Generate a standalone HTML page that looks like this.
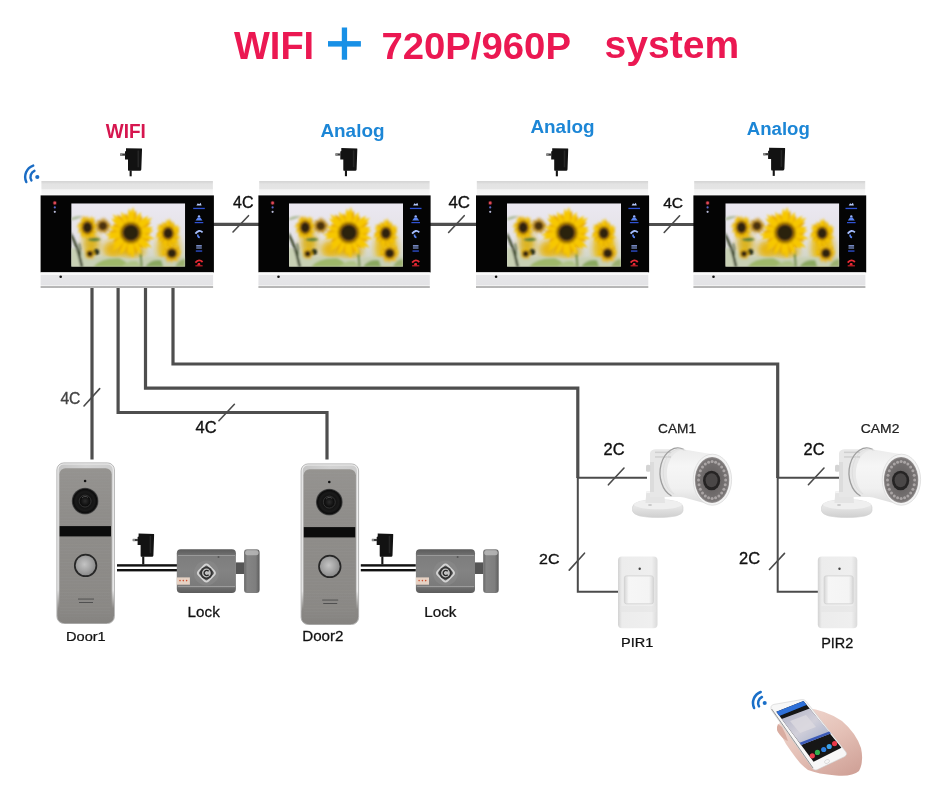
<!DOCTYPE html>
<html><head><meta charset="utf-8"><title>WIFI + 720P/960P system</title>
<style>html,body{margin:0;padding:0;background:#fff;}svg{display:block;filter:blur(0.4px);}</style></head>
<body><svg width="950" height="807" viewBox="0 0 950 807"><defs>
<linearGradient id="silTop" x1="0" y1="0" x2="0" y2="1">
 <stop offset="0" stop-color="#d4d4d4"/><stop offset="0.14" stop-color="#dcdcdc"/><stop offset="0.2" stop-color="#e3e3e3"/>
 <stop offset="0.52" stop-color="#e5e5e5"/><stop offset="0.6" stop-color="#f2f2f2"/><stop offset="0.9" stop-color="#f5f5f5"/><stop offset="1" stop-color="#fbfbfb"/>
</linearGradient>
<linearGradient id="silBot" x1="0" y1="0" x2="0" y2="1">
 <stop offset="0" stop-color="#fcfcfc"/><stop offset="0.15" stop-color="#f8f8f8"/><stop offset="0.19" stop-color="#e6e6e8"/>
 <stop offset="0.78" stop-color="#e3e3e6"/><stop offset="0.8" stop-color="#f2f2f2"/><stop offset="0.87" stop-color="#f0f0f0"/><stop offset="0.88" stop-color="#b8b8b8"/><stop offset="1" stop-color="#b4b4b4"/>
</linearGradient>
<linearGradient id="sky" x1="0" y1="0" x2="0" y2="1">
 <stop offset="0" stop-color="#ebe8f1"/><stop offset="0.55" stop-color="#e4e2e6"/>
 <stop offset="1" stop-color="#c9d0bc"/>
</linearGradient>
<filter id="b1" x="-10%" y="-10%" width="120%" height="120%"><feGaussianBlur stdDeviation="0.9"/></filter>
<filter id="b2" x="-20%" y="-20%" width="140%" height="140%"><feGaussianBlur stdDeviation="3"/></filter><filter id="b05"><feGaussianBlur stdDeviation="0.5"/></filter>
<filter id="b03"><feGaussianBlur stdDeviation="0.3"/></filter>
<radialGradient id="sunC" cx="0.5" cy="0.5" r="0.5">
 <stop offset="0" stop-color="#2d2a0e"/><stop offset="0.6" stop-color="#4a3612"/><stop offset="1" stop-color="#8a6a10"/>
</radialGradient>
<clipPath id="scrClip"><rect x="0" y="0" width="114" height="63.5"/></clipPath>
<g id="scr" clip-path="url(#scrClip)"><rect width="114" height="63.5" fill="url(#sky)"/><g filter="url(#b2)"><ellipse cx="42" cy="46" rx="10" ry="9" fill="#e6b614"/><ellipse cx="97" cy="44" rx="11" ry="17" fill="#e8bb12"/><ellipse cx="20" cy="40" rx="8" ry="12" fill="#dcb420"/><ellipse cx="60" cy="48" rx="14" ry="6" fill="#e0b010"/></g><g filter="url(#b1)"><path d="M0,44 Q15,50 24,54 Q40,52 60,56 Q85,52 114,54 L114,63.5 L0,63.5Z" fill="#c8d0b4"/><path d="M22,63.5 Q30,54 48,55 Q56,58 58,63.5Z" fill="#9fb86a"/><path d="M50,63.5 Q58,56 66,58 L70,63.5Z" fill="#b0c488"/><path d="M74,63.5 Q80,55 90,57 L92,63.5Z" fill="#8aa860"/><path d="M104,63.5 Q108,55 114,56 L114,63.5Z" fill="#9cb070"/><path d="M0,29 Q8,44 12,63.5 L9.5,63.5 Q6,46 0,34Z" fill="#263018"/><path d="M8,40 Q10,46 9,52" stroke="#384a26" stroke-width="1.2" fill="none"/><path d="M15,36 Q24,33 30,36 Q24,40 15,36Z" fill="#5d7f3a"/><path d="M0,15 Q6,12 12,13 Q6,16 0,17Z" fill="#a9b894"/><path d="M68,46 L69.5,63.5 L71.5,63.5 L70,46Z" fill="#6c8a3e"/><circle cx="25" cy="48.7" r="3" fill="#1e2812"/><g transform="translate(31.7,22.6) scale(1,1.0)"><path d="M2.9,0 Q5.0,-1.5 7.7,0 Q5.0,1.5 2.9,0Z" fill="#b07e18" transform="rotate(8)"/><path d="M2.9,0 Q5.2,-1.5 8.1,0 Q5.2,1.5 2.9,0Z" fill="#b07e18" transform="rotate(38)"/><path d="M2.9,0 Q5.4,-1.5 8.5,0 Q5.4,1.5 2.9,0Z" fill="#b07e18" transform="rotate(67)"/><path d="M2.9,0 Q5.0,-1.5 7.7,0 Q5.0,1.5 2.9,0Z" fill="#b07e18" transform="rotate(86)"/><path d="M2.9,0 Q5.2,-1.5 8.1,0 Q5.2,1.5 2.9,0Z" fill="#b07e18" transform="rotate(116)"/><path d="M2.9,0 Q5.4,-1.5 8.5,0 Q5.4,1.5 2.9,0Z" fill="#b07e18" transform="rotate(145)"/><path d="M2.9,0 Q5.0,-1.5 7.7,0 Q5.0,1.5 2.9,0Z" fill="#b07e18" transform="rotate(164)"/><path d="M2.9,0 Q5.2,-1.5 8.1,0 Q5.2,1.5 2.9,0Z" fill="#b07e18" transform="rotate(194)"/><path d="M2.9,0 Q5.4,-1.5 8.5,0 Q5.4,1.5 2.9,0Z" fill="#b07e18" transform="rotate(224)"/><path d="M2.9,0 Q5.0,-1.5 7.7,0 Q5.0,1.5 2.9,0Z" fill="#b07e18" transform="rotate(242)"/><path d="M2.9,0 Q5.2,-1.5 8.1,0 Q5.2,1.5 2.9,0Z" fill="#b07e18" transform="rotate(272)"/><path d="M2.9,0 Q5.4,-1.5 8.5,0 Q5.4,1.5 2.9,0Z" fill="#b07e18" transform="rotate(291)"/><path d="M2.9,0 Q5.0,-1.5 7.7,0 Q5.0,1.5 2.9,0Z" fill="#b07e18" transform="rotate(320)"/><path d="M2.9,0 Q5.2,-1.5 8.1,0 Q5.2,1.5 2.9,0Z" fill="#b07e18" transform="rotate(350)"/><path d="M2.9,0 Q5.4,-1.5 8.5,0 Q5.4,1.5 2.9,0Z" fill="#d6a428" transform="rotate(-5)"/><path d="M2.9,0 Q5.6,-1.5 9.0,0 Q5.6,1.5 2.9,0Z" fill="#d6a428" transform="rotate(25)"/><path d="M2.9,0 Q5.9,-1.5 9.5,0 Q5.9,1.5 2.9,0Z" fill="#d6a428" transform="rotate(54)"/><path d="M2.9,0 Q5.4,-1.5 8.5,0 Q5.4,1.5 2.9,0Z" fill="#d6a428" transform="rotate(73)"/><path d="M2.9,0 Q5.6,-1.5 9.0,0 Q5.6,1.5 2.9,0Z" fill="#d6a428" transform="rotate(103)"/><path d="M2.9,0 Q5.9,-1.5 9.5,0 Q5.9,1.5 2.9,0Z" fill="#d6a428" transform="rotate(133)"/><path d="M2.9,0 Q5.4,-1.5 8.5,0 Q5.4,1.5 2.9,0Z" fill="#d6a428" transform="rotate(151)"/><path d="M2.9,0 Q5.6,-1.5 9.0,0 Q5.6,1.5 2.9,0Z" fill="#d6a428" transform="rotate(181)"/><path d="M2.9,0 Q5.9,-1.5 9.5,0 Q5.9,1.5 2.9,0Z" fill="#d6a428" transform="rotate(211)"/><path d="M2.9,0 Q5.4,-1.5 8.5,0 Q5.4,1.5 2.9,0Z" fill="#d6a428" transform="rotate(229)"/><path d="M2.9,0 Q5.6,-1.5 9.0,0 Q5.6,1.5 2.9,0Z" fill="#d6a428" transform="rotate(259)"/><path d="M2.9,0 Q5.9,-1.5 9.5,0 Q5.9,1.5 2.9,0Z" fill="#d6a428" transform="rotate(278)"/><path d="M2.9,0 Q5.4,-1.5 8.5,0 Q5.4,1.5 2.9,0Z" fill="#d6a428" transform="rotate(308)"/><path d="M2.9,0 Q5.6,-1.5 9.0,0 Q5.6,1.5 2.9,0Z" fill="#d6a428" transform="rotate(337)"/><circle r="5.2" fill="#7a5014" opacity="0.55"/><circle r="4.2" fill="#7a5014"/><circle r="3.6" fill="#4a3010"/></g><g transform="translate(100.7,50) scale(1,1.0)"><path d="M3.2,0 Q5.7,-1.8 8.8,0 Q5.7,1.8 3.2,0Z" fill="#d89e08" transform="rotate(6)"/><path d="M3.2,0 Q6.0,-1.8 9.3,0 Q6.0,1.8 3.2,0Z" fill="#d89e08" transform="rotate(33)"/><path d="M3.2,0 Q6.2,-1.8 9.8,0 Q6.2,1.8 3.2,0Z" fill="#d89e08" transform="rotate(59)"/><path d="M3.2,0 Q5.7,-1.8 8.8,0 Q5.7,1.8 3.2,0Z" fill="#d89e08" transform="rotate(75)"/><path d="M3.2,0 Q6.0,-1.8 9.3,0 Q6.0,1.8 3.2,0Z" fill="#d89e08" transform="rotate(101)"/><path d="M3.2,0 Q6.2,-1.8 9.8,0 Q6.2,1.8 3.2,0Z" fill="#d89e08" transform="rotate(128)"/><path d="M3.2,0 Q5.7,-1.8 8.8,0 Q5.7,1.8 3.2,0Z" fill="#d89e08" transform="rotate(143)"/><path d="M3.2,0 Q6.0,-1.8 9.3,0 Q6.0,1.8 3.2,0Z" fill="#d89e08" transform="rotate(170)"/><path d="M3.2,0 Q6.2,-1.8 9.8,0 Q6.2,1.8 3.2,0Z" fill="#d89e08" transform="rotate(196)"/><path d="M3.2,0 Q5.7,-1.8 8.8,0 Q5.7,1.8 3.2,0Z" fill="#d89e08" transform="rotate(212)"/><path d="M3.2,0 Q6.0,-1.8 9.3,0 Q6.0,1.8 3.2,0Z" fill="#d89e08" transform="rotate(238)"/><path d="M3.2,0 Q6.2,-1.8 9.8,0 Q6.2,1.8 3.2,0Z" fill="#d89e08" transform="rotate(254)"/><path d="M3.2,0 Q5.7,-1.8 8.8,0 Q5.7,1.8 3.2,0Z" fill="#d89e08" transform="rotate(280)"/><path d="M3.2,0 Q6.0,-1.8 9.3,0 Q6.0,1.8 3.2,0Z" fill="#d89e08" transform="rotate(307)"/><path d="M3.2,0 Q6.2,-1.8 9.8,0 Q6.2,1.8 3.2,0Z" fill="#d89e08" transform="rotate(322)"/><path d="M3.2,0 Q5.7,-1.8 8.8,0 Q5.7,1.8 3.2,0Z" fill="#d89e08" transform="rotate(349)"/><path d="M3.2,0 Q6.2,-1.8 9.8,0 Q6.2,1.8 3.2,0Z" fill="#f0c010" transform="rotate(-5)"/><path d="M3.2,0 Q6.4,-1.8 10.4,0 Q6.4,1.8 3.2,0Z" fill="#f0c010" transform="rotate(22)"/><path d="M3.2,0 Q6.7,-1.8 11.0,0 Q6.7,1.8 3.2,0Z" fill="#f0c010" transform="rotate(48)"/><path d="M3.2,0 Q6.2,-1.8 9.8,0 Q6.2,1.8 3.2,0Z" fill="#f0c010" transform="rotate(64)"/><path d="M3.2,0 Q6.4,-1.8 10.4,0 Q6.4,1.8 3.2,0Z" fill="#f0c010" transform="rotate(90)"/><path d="M3.2,0 Q6.7,-1.8 11.0,0 Q6.7,1.8 3.2,0Z" fill="#f0c010" transform="rotate(116)"/><path d="M3.2,0 Q6.2,-1.8 9.8,0 Q6.2,1.8 3.2,0Z" fill="#f0c010" transform="rotate(132)"/><path d="M3.2,0 Q6.4,-1.8 10.4,0 Q6.4,1.8 3.2,0Z" fill="#f0c010" transform="rotate(158)"/><path d="M3.2,0 Q6.7,-1.8 11.0,0 Q6.7,1.8 3.2,0Z" fill="#f0c010" transform="rotate(185)"/><path d="M3.2,0 Q6.2,-1.8 9.8,0 Q6.2,1.8 3.2,0Z" fill="#f0c010" transform="rotate(200)"/><path d="M3.2,0 Q6.4,-1.8 10.4,0 Q6.4,1.8 3.2,0Z" fill="#f0c010" transform="rotate(227)"/><path d="M3.2,0 Q6.7,-1.8 11.0,0 Q6.7,1.8 3.2,0Z" fill="#f0c010" transform="rotate(242)"/><path d="M3.2,0 Q6.2,-1.8 9.8,0 Q6.2,1.8 3.2,0Z" fill="#f0c010" transform="rotate(269)"/><path d="M3.2,0 Q6.4,-1.8 10.4,0 Q6.4,1.8 3.2,0Z" fill="#f0c010" transform="rotate(296)"/><path d="M3.2,0 Q6.7,-1.8 11.0,0 Q6.7,1.8 3.2,0Z" fill="#f0c010" transform="rotate(311)"/><path d="M3.2,0 Q6.2,-1.8 9.8,0 Q6.2,1.8 3.2,0Z" fill="#f0c010" transform="rotate(338)"/><circle r="5.8" fill="#8a5a08" opacity="0.55"/><circle r="4.7" fill="#8a5a08"/><circle r="4.0" fill="#2e2410"/></g><g transform="translate(18.7,50.5) scale(1,1.0)"><path d="M2.0,0 Q3.6,-1.1 5.6,0 Q3.6,1.1 2.0,0Z" fill="#d8a008" transform="rotate(8)"/><path d="M2.0,0 Q3.8,-1.1 5.9,0 Q3.8,1.1 2.0,0Z" fill="#d8a008" transform="rotate(38)"/><path d="M2.0,0 Q3.9,-1.1 6.2,0 Q3.9,1.1 2.0,0Z" fill="#d8a008" transform="rotate(67)"/><path d="M2.0,0 Q3.6,-1.1 5.6,0 Q3.6,1.1 2.0,0Z" fill="#d8a008" transform="rotate(86)"/><path d="M2.0,0 Q3.8,-1.1 5.9,0 Q3.8,1.1 2.0,0Z" fill="#d8a008" transform="rotate(116)"/><path d="M2.0,0 Q3.9,-1.1 6.2,0 Q3.9,1.1 2.0,0Z" fill="#d8a008" transform="rotate(145)"/><path d="M2.0,0 Q3.6,-1.1 5.6,0 Q3.6,1.1 2.0,0Z" fill="#d8a008" transform="rotate(164)"/><path d="M2.0,0 Q3.8,-1.1 5.9,0 Q3.8,1.1 2.0,0Z" fill="#d8a008" transform="rotate(194)"/><path d="M2.0,0 Q3.9,-1.1 6.2,0 Q3.9,1.1 2.0,0Z" fill="#d8a008" transform="rotate(224)"/><path d="M2.0,0 Q3.6,-1.1 5.6,0 Q3.6,1.1 2.0,0Z" fill="#d8a008" transform="rotate(242)"/><path d="M2.0,0 Q3.8,-1.1 5.9,0 Q3.8,1.1 2.0,0Z" fill="#d8a008" transform="rotate(272)"/><path d="M2.0,0 Q3.9,-1.1 6.2,0 Q3.9,1.1 2.0,0Z" fill="#d8a008" transform="rotate(291)"/><path d="M2.0,0 Q3.6,-1.1 5.6,0 Q3.6,1.1 2.0,0Z" fill="#d8a008" transform="rotate(320)"/><path d="M2.0,0 Q3.8,-1.1 5.9,0 Q3.8,1.1 2.0,0Z" fill="#d8a008" transform="rotate(350)"/><path d="M2.0,0 Q3.9,-1.1 6.2,0 Q3.9,1.1 2.0,0Z" fill="#eec010" transform="rotate(-5)"/><path d="M2.0,0 Q4.1,-1.1 6.6,0 Q4.1,1.1 2.0,0Z" fill="#eec010" transform="rotate(25)"/><path d="M2.0,0 Q4.2,-1.1 7.0,0 Q4.2,1.1 2.0,0Z" fill="#eec010" transform="rotate(54)"/><path d="M2.0,0 Q3.9,-1.1 6.2,0 Q3.9,1.1 2.0,0Z" fill="#eec010" transform="rotate(73)"/><path d="M2.0,0 Q4.1,-1.1 6.6,0 Q4.1,1.1 2.0,0Z" fill="#eec010" transform="rotate(103)"/><path d="M2.0,0 Q4.2,-1.1 7.0,0 Q4.2,1.1 2.0,0Z" fill="#eec010" transform="rotate(133)"/><path d="M2.0,0 Q3.9,-1.1 6.2,0 Q3.9,1.1 2.0,0Z" fill="#eec010" transform="rotate(151)"/><path d="M2.0,0 Q4.1,-1.1 6.6,0 Q4.1,1.1 2.0,0Z" fill="#eec010" transform="rotate(181)"/><path d="M2.0,0 Q4.2,-1.1 7.0,0 Q4.2,1.1 2.0,0Z" fill="#eec010" transform="rotate(211)"/><path d="M2.0,0 Q3.9,-1.1 6.2,0 Q3.9,1.1 2.0,0Z" fill="#eec010" transform="rotate(229)"/><path d="M2.0,0 Q4.1,-1.1 6.6,0 Q4.1,1.1 2.0,0Z" fill="#eec010" transform="rotate(259)"/><path d="M2.0,0 Q4.2,-1.1 7.0,0 Q4.2,1.1 2.0,0Z" fill="#eec010" transform="rotate(278)"/><path d="M2.0,0 Q3.9,-1.1 6.2,0 Q3.9,1.1 2.0,0Z" fill="#eec010" transform="rotate(308)"/><path d="M2.0,0 Q4.1,-1.1 6.6,0 Q4.1,1.1 2.0,0Z" fill="#eec010" transform="rotate(337)"/><circle r="3.6" fill="#8a5a08" opacity="0.55"/><circle r="2.9" fill="#8a5a08"/><circle r="2.5" fill="#2e2410"/></g><g transform="translate(96.9,30) scale(1,1.15)"><path d="M3.5,0 Q6.8,-2.2 10.7,0 Q6.8,2.2 3.5,0Z" fill="#e0a400" transform="rotate(5)"/><path d="M3.5,0 Q7.1,-2.2 11.4,0 Q7.1,2.2 3.5,0Z" fill="#e0a400" transform="rotate(29)"/><path d="M3.5,0 Q7.3,-2.2 12.0,0 Q7.3,2.2 3.5,0Z" fill="#e0a400" transform="rotate(53)"/><path d="M3.5,0 Q6.8,-2.2 10.7,0 Q6.8,2.2 3.5,0Z" fill="#e0a400" transform="rotate(66)"/><path d="M3.5,0 Q7.1,-2.2 11.4,0 Q7.1,2.2 3.5,0Z" fill="#e0a400" transform="rotate(90)"/><path d="M3.5,0 Q7.3,-2.2 12.0,0 Q7.3,2.2 3.5,0Z" fill="#e0a400" transform="rotate(114)"/><path d="M3.5,0 Q6.8,-2.2 10.7,0 Q6.8,2.2 3.5,0Z" fill="#e0a400" transform="rotate(127)"/><path d="M3.5,0 Q7.1,-2.2 11.4,0 Q7.1,2.2 3.5,0Z" fill="#e0a400" transform="rotate(151)"/><path d="M3.5,0 Q7.3,-2.2 12.0,0 Q7.3,2.2 3.5,0Z" fill="#e0a400" transform="rotate(175)"/><path d="M3.5,0 Q6.8,-2.2 10.7,0 Q6.8,2.2 3.5,0Z" fill="#e0a400" transform="rotate(188)"/><path d="M3.5,0 Q7.1,-2.2 11.4,0 Q7.1,2.2 3.5,0Z" fill="#e0a400" transform="rotate(212)"/><path d="M3.5,0 Q7.3,-2.2 12.0,0 Q7.3,2.2 3.5,0Z" fill="#e0a400" transform="rotate(225)"/><path d="M3.5,0 Q6.8,-2.2 10.7,0 Q6.8,2.2 3.5,0Z" fill="#e0a400" transform="rotate(249)"/><path d="M3.5,0 Q7.1,-2.2 11.4,0 Q7.1,2.2 3.5,0Z" fill="#e0a400" transform="rotate(273)"/><path d="M3.5,0 Q7.3,-2.2 12.0,0 Q7.3,2.2 3.5,0Z" fill="#e0a400" transform="rotate(286)"/><path d="M3.5,0 Q6.8,-2.2 10.7,0 Q6.8,2.2 3.5,0Z" fill="#e0a400" transform="rotate(310)"/><path d="M3.5,0 Q7.1,-2.2 11.4,0 Q7.1,2.2 3.5,0Z" fill="#e0a400" transform="rotate(334)"/><path d="M3.5,0 Q7.3,-2.2 12.0,0 Q7.3,2.2 3.5,0Z" fill="#e0a400" transform="rotate(347)"/><path d="M3.5,0 Q7.3,-2.2 12.0,0 Q7.3,2.2 3.5,0Z" fill="#f4c400" transform="rotate(-5)"/><path d="M3.5,0 Q7.7,-2.2 12.8,0 Q7.7,2.2 3.5,0Z" fill="#f4c400" transform="rotate(19)"/><path d="M3.5,0 Q8.0,-2.2 13.5,0 Q8.0,2.2 3.5,0Z" fill="#f4c400" transform="rotate(43)"/><path d="M3.5,0 Q7.3,-2.2 12.0,0 Q7.3,2.2 3.5,0Z" fill="#f4c400" transform="rotate(56)"/><path d="M3.5,0 Q7.7,-2.2 12.8,0 Q7.7,2.2 3.5,0Z" fill="#f4c400" transform="rotate(80)"/><path d="M3.5,0 Q8.0,-2.2 13.5,0 Q8.0,2.2 3.5,0Z" fill="#f4c400" transform="rotate(104)"/><path d="M3.5,0 Q7.3,-2.2 12.0,0 Q7.3,2.2 3.5,0Z" fill="#f4c400" transform="rotate(117)"/><path d="M3.5,0 Q7.7,-2.2 12.8,0 Q7.7,2.2 3.5,0Z" fill="#f4c400" transform="rotate(141)"/><path d="M3.5,0 Q8.0,-2.2 13.5,0 Q8.0,2.2 3.5,0Z" fill="#f4c400" transform="rotate(165)"/><path d="M3.5,0 Q7.3,-2.2 12.0,0 Q7.3,2.2 3.5,0Z" fill="#f4c400" transform="rotate(178)"/><path d="M3.5,0 Q7.7,-2.2 12.8,0 Q7.7,2.2 3.5,0Z" fill="#f4c400" transform="rotate(202)"/><path d="M3.5,0 Q8.0,-2.2 13.5,0 Q8.0,2.2 3.5,0Z" fill="#f4c400" transform="rotate(215)"/><path d="M3.5,0 Q7.3,-2.2 12.0,0 Q7.3,2.2 3.5,0Z" fill="#f4c400" transform="rotate(239)"/><path d="M3.5,0 Q7.7,-2.2 12.8,0 Q7.7,2.2 3.5,0Z" fill="#f4c400" transform="rotate(263)"/><path d="M3.5,0 Q8.0,-2.2 13.5,0 Q8.0,2.2 3.5,0Z" fill="#f4c400" transform="rotate(276)"/><path d="M3.5,0 Q7.3,-2.2 12.0,0 Q7.3,2.2 3.5,0Z" fill="#f4c400" transform="rotate(300)"/><path d="M3.5,0 Q7.7,-2.2 12.8,0 Q7.7,2.2 3.5,0Z" fill="#f4c400" transform="rotate(324)"/><path d="M3.5,0 Q8.0,-2.2 13.5,0 Q8.0,2.2 3.5,0Z" fill="#f4c400" transform="rotate(337)"/><circle r="6.4" fill="#8a5a08" opacity="0.55"/><circle r="5.2" fill="#8a5a08"/><circle r="4.4" fill="#2e2410"/></g><g transform="translate(16.2,24.2) scale(1,1.2)"><path d="M3.4,0 Q6.0,-1.8 9.2,0 Q6.0,1.8 3.4,0Z" fill="#dca000" transform="rotate(6)"/><path d="M3.4,0 Q6.2,-1.8 9.8,0 Q6.2,1.8 3.4,0Z" fill="#dca000" transform="rotate(33)"/><path d="M3.4,0 Q6.5,-1.8 10.3,0 Q6.5,1.8 3.4,0Z" fill="#dca000" transform="rotate(59)"/><path d="M3.4,0 Q6.0,-1.8 9.2,0 Q6.0,1.8 3.4,0Z" fill="#dca000" transform="rotate(75)"/><path d="M3.4,0 Q6.2,-1.8 9.8,0 Q6.2,1.8 3.4,0Z" fill="#dca000" transform="rotate(101)"/><path d="M3.4,0 Q6.5,-1.8 10.3,0 Q6.5,1.8 3.4,0Z" fill="#dca000" transform="rotate(128)"/><path d="M3.4,0 Q6.0,-1.8 9.2,0 Q6.0,1.8 3.4,0Z" fill="#dca000" transform="rotate(143)"/><path d="M3.4,0 Q6.2,-1.8 9.8,0 Q6.2,1.8 3.4,0Z" fill="#dca000" transform="rotate(170)"/><path d="M3.4,0 Q6.5,-1.8 10.3,0 Q6.5,1.8 3.4,0Z" fill="#dca000" transform="rotate(196)"/><path d="M3.4,0 Q6.0,-1.8 9.2,0 Q6.0,1.8 3.4,0Z" fill="#dca000" transform="rotate(212)"/><path d="M3.4,0 Q6.2,-1.8 9.8,0 Q6.2,1.8 3.4,0Z" fill="#dca000" transform="rotate(238)"/><path d="M3.4,0 Q6.5,-1.8 10.3,0 Q6.5,1.8 3.4,0Z" fill="#dca000" transform="rotate(254)"/><path d="M3.4,0 Q6.0,-1.8 9.2,0 Q6.0,1.8 3.4,0Z" fill="#dca000" transform="rotate(280)"/><path d="M3.4,0 Q6.2,-1.8 9.8,0 Q6.2,1.8 3.4,0Z" fill="#dca000" transform="rotate(307)"/><path d="M3.4,0 Q6.5,-1.8 10.3,0 Q6.5,1.8 3.4,0Z" fill="#dca000" transform="rotate(322)"/><path d="M3.4,0 Q6.0,-1.8 9.2,0 Q6.0,1.8 3.4,0Z" fill="#dca000" transform="rotate(349)"/><path d="M3.4,0 Q6.5,-1.8 10.3,0 Q6.5,1.8 3.4,0Z" fill="#f3c200" transform="rotate(-5)"/><path d="M3.4,0 Q6.7,-1.8 10.9,0 Q6.7,1.8 3.4,0Z" fill="#f3c200" transform="rotate(22)"/><path d="M3.4,0 Q7.0,-1.8 11.5,0 Q7.0,1.8 3.4,0Z" fill="#f3c200" transform="rotate(48)"/><path d="M3.4,0 Q6.5,-1.8 10.3,0 Q6.5,1.8 3.4,0Z" fill="#f3c200" transform="rotate(64)"/><path d="M3.4,0 Q6.7,-1.8 10.9,0 Q6.7,1.8 3.4,0Z" fill="#f3c200" transform="rotate(90)"/><path d="M3.4,0 Q7.0,-1.8 11.5,0 Q7.0,1.8 3.4,0Z" fill="#f3c200" transform="rotate(116)"/><path d="M3.4,0 Q6.5,-1.8 10.3,0 Q6.5,1.8 3.4,0Z" fill="#f3c200" transform="rotate(132)"/><path d="M3.4,0 Q6.7,-1.8 10.9,0 Q6.7,1.8 3.4,0Z" fill="#f3c200" transform="rotate(158)"/><path d="M3.4,0 Q7.0,-1.8 11.5,0 Q7.0,1.8 3.4,0Z" fill="#f3c200" transform="rotate(185)"/><path d="M3.4,0 Q6.5,-1.8 10.3,0 Q6.5,1.8 3.4,0Z" fill="#f3c200" transform="rotate(200)"/><path d="M3.4,0 Q6.7,-1.8 10.9,0 Q6.7,1.8 3.4,0Z" fill="#f3c200" transform="rotate(227)"/><path d="M3.4,0 Q7.0,-1.8 11.5,0 Q7.0,1.8 3.4,0Z" fill="#f3c200" transform="rotate(242)"/><path d="M3.4,0 Q6.5,-1.8 10.3,0 Q6.5,1.8 3.4,0Z" fill="#f3c200" transform="rotate(269)"/><path d="M3.4,0 Q6.7,-1.8 10.9,0 Q6.7,1.8 3.4,0Z" fill="#f3c200" transform="rotate(296)"/><path d="M3.4,0 Q7.0,-1.8 11.5,0 Q7.0,1.8 3.4,0Z" fill="#f3c200" transform="rotate(311)"/><path d="M3.4,0 Q6.5,-1.8 10.3,0 Q6.5,1.8 3.4,0Z" fill="#f3c200" transform="rotate(338)"/><circle r="6.1" fill="#8a5a08" opacity="0.55"/><circle r="5.0" fill="#8a5a08"/><circle r="4.2" fill="#2e2410"/></g><path d="M67.5,38 Q70,42 69.5,50 L67,50 Q66.5,42 67.5,38Z" fill="#f4d860"/><g transform="translate(59.7,29.4) scale(1,1.0)"><path d="M6.1,0 Q12.6,-4.4 20.5,0 Q12.6,4.4 6.1,0Z" fill="#e8a800" transform="rotate(3)"/><path d="M6.1,0 Q13.1,-4.4 21.7,0 Q13.1,4.4 6.1,0Z" fill="#e8a800" transform="rotate(24)"/><path d="M6.1,0 Q13.7,-4.4 23.0,0 Q13.7,4.4 6.1,0Z" fill="#e8a800" transform="rotate(44)"/><path d="M6.1,0 Q12.6,-4.4 20.5,0 Q12.6,4.4 6.1,0Z" fill="#e8a800" transform="rotate(53)"/><path d="M6.1,0 Q13.1,-4.4 21.7,0 Q13.1,4.4 6.1,0Z" fill="#e8a800" transform="rotate(74)"/><path d="M6.1,0 Q13.7,-4.4 23.0,0 Q13.7,4.4 6.1,0Z" fill="#e8a800" transform="rotate(94)"/><path d="M6.1,0 Q12.6,-4.4 20.5,0 Q12.6,4.4 6.1,0Z" fill="#e8a800" transform="rotate(103)"/><path d="M6.1,0 Q13.1,-4.4 21.7,0 Q13.1,4.4 6.1,0Z" fill="#e8a800" transform="rotate(124)"/><path d="M6.1,0 Q13.7,-4.4 23.0,0 Q13.7,4.4 6.1,0Z" fill="#e8a800" transform="rotate(144)"/><path d="M6.1,0 Q12.6,-4.4 20.5,0 Q12.6,4.4 6.1,0Z" fill="#e8a800" transform="rotate(153)"/><path d="M6.1,0 Q13.1,-4.4 21.7,0 Q13.1,4.4 6.1,0Z" fill="#e8a800" transform="rotate(174)"/><path d="M6.1,0 Q13.7,-4.4 23.0,0 Q13.7,4.4 6.1,0Z" fill="#e8a800" transform="rotate(183)"/><path d="M6.1,0 Q12.6,-4.4 20.5,0 Q12.6,4.4 6.1,0Z" fill="#e8a800" transform="rotate(204)"/><path d="M6.1,0 Q13.1,-4.4 21.7,0 Q13.1,4.4 6.1,0Z" fill="#e8a800" transform="rotate(224)"/><path d="M6.1,0 Q13.7,-4.4 23.0,0 Q13.7,4.4 6.1,0Z" fill="#e8a800" transform="rotate(233)"/><path d="M6.1,0 Q12.6,-4.4 20.5,0 Q12.6,4.4 6.1,0Z" fill="#e8a800" transform="rotate(254)"/><path d="M6.1,0 Q13.1,-4.4 21.7,0 Q13.1,4.4 6.1,0Z" fill="#e8a800" transform="rotate(274)"/><path d="M6.1,0 Q13.7,-4.4 23.0,0 Q13.7,4.4 6.1,0Z" fill="#e8a800" transform="rotate(283)"/><path d="M6.1,0 Q12.6,-4.4 20.5,0 Q12.6,4.4 6.1,0Z" fill="#e8a800" transform="rotate(304)"/><path d="M6.1,0 Q13.1,-4.4 21.7,0 Q13.1,4.4 6.1,0Z" fill="#e8a800" transform="rotate(324)"/><path d="M6.1,0 Q13.7,-4.4 23.0,0 Q13.7,4.4 6.1,0Z" fill="#e8a800" transform="rotate(333)"/><path d="M6.1,0 Q12.6,-4.4 20.5,0 Q12.6,4.4 6.1,0Z" fill="#e8a800" transform="rotate(354)"/><path d="M6.1,0 Q13.7,-4.4 23.0,0 Q13.7,4.4 6.1,0Z" fill="#f7c800" transform="rotate(-5)"/><path d="M6.1,0 Q14.4,-4.4 24.5,0 Q14.4,4.4 6.1,0Z" fill="#f7c800" transform="rotate(15)"/><path d="M6.1,0 Q15.0,-4.4 26.0,0 Q15.0,4.4 6.1,0Z" fill="#f7c800" transform="rotate(36)"/><path d="M6.1,0 Q13.7,-4.4 23.0,0 Q13.7,4.4 6.1,0Z" fill="#f7c800" transform="rotate(45)"/><path d="M6.1,0 Q14.4,-4.4 24.5,0 Q14.4,4.4 6.1,0Z" fill="#f7c800" transform="rotate(65)"/><path d="M6.1,0 Q15.0,-4.4 26.0,0 Q15.0,4.4 6.1,0Z" fill="#f7c800" transform="rotate(86)"/><path d="M6.1,0 Q13.7,-4.4 23.0,0 Q13.7,4.4 6.1,0Z" fill="#f7c800" transform="rotate(95)"/><path d="M6.1,0 Q14.4,-4.4 24.5,0 Q14.4,4.4 6.1,0Z" fill="#f7c800" transform="rotate(116)"/><path d="M6.1,0 Q15.0,-4.4 26.0,0 Q15.0,4.4 6.1,0Z" fill="#f7c800" transform="rotate(136)"/><path d="M6.1,0 Q13.7,-4.4 23.0,0 Q13.7,4.4 6.1,0Z" fill="#f7c800" transform="rotate(145)"/><path d="M6.1,0 Q14.4,-4.4 24.5,0 Q14.4,4.4 6.1,0Z" fill="#f7c800" transform="rotate(166)"/><path d="M6.1,0 Q15.0,-4.4 26.0,0 Q15.0,4.4 6.1,0Z" fill="#f7c800" transform="rotate(175)"/><path d="M6.1,0 Q13.7,-4.4 23.0,0 Q13.7,4.4 6.1,0Z" fill="#f7c800" transform="rotate(195)"/><path d="M6.1,0 Q14.4,-4.4 24.5,0 Q14.4,4.4 6.1,0Z" fill="#f7c800" transform="rotate(216)"/><path d="M6.1,0 Q15.0,-4.4 26.0,0 Q15.0,4.4 6.1,0Z" fill="#f7c800" transform="rotate(225)"/><path d="M6.1,0 Q13.7,-4.4 23.0,0 Q13.7,4.4 6.1,0Z" fill="#f7c800" transform="rotate(245)"/><path d="M6.1,0 Q14.4,-4.4 24.5,0 Q14.4,4.4 6.1,0Z" fill="#f7c800" transform="rotate(266)"/><path d="M6.1,0 Q15.0,-4.4 26.0,0 Q15.0,4.4 6.1,0Z" fill="#f7c800" transform="rotate(275)"/><path d="M6.1,0 Q13.7,-4.4 23.0,0 Q13.7,4.4 6.1,0Z" fill="#f7c800" transform="rotate(296)"/><path d="M6.1,0 Q14.4,-4.4 24.5,0 Q14.4,4.4 6.1,0Z" fill="#f7c800" transform="rotate(316)"/><path d="M6.1,0 Q15.0,-4.4 26.0,0 Q15.0,4.4 6.1,0Z" fill="#f7c800" transform="rotate(325)"/><path d="M6.1,0 Q13.7,-4.4 23.0,0 Q13.7,4.4 6.1,0Z" fill="#f7c800" transform="rotate(346)"/><circle r="11.0" fill="#7a5008" opacity="0.55"/><circle r="9.0" fill="#7a5008"/><circle r="7.6" fill="#2a2410"/></g></g></g>
<linearGradient id="doorFrame" x1="0" y1="0" x2="1" y2="0">
 <stop offset="0" stop-color="#c4c4c4"/><stop offset="0.5" stop-color="#d2d2d2"/>
 <stop offset="1" stop-color="#cdcdcd"/>
</linearGradient>
<linearGradient id="doorPanel" x1="0" y1="0" x2="0" y2="1">
 <stop offset="0" stop-color="#959390"/><stop offset="0.3" stop-color="#8f8d8a"/><stop offset="1" stop-color="#8a8885"/>
</linearGradient>
<linearGradient id="doorCap" x1="0" y1="0" x2="0" y2="1">
 <stop offset="0" stop-color="#8a8885" stop-opacity="0"/><stop offset="0.55" stop-color="#8a8885" stop-opacity="1"/><stop offset="1" stop-color="#858380"/>
</linearGradient>
<radialGradient id="btn" cx="0.45" cy="0.45" r="0.65">
 <stop offset="0" stop-color="#c4c4c4"/><stop offset="0.5" stop-color="#a2a2a2"/><stop offset="1" stop-color="#7c7c7c"/>
</radialGradient>
<radialGradient id="lens" cx="0.5" cy="0.5" r="0.5">
 <stop offset="0" stop-color="#2c2c2c"/><stop offset="0.35" stop-color="#0e0e0e"/><stop offset="0.7" stop-color="#1a1a1a"/><stop offset="0.88" stop-color="#0c0c0c"/><stop offset="1" stop-color="#555"/>
</radialGradient>

<linearGradient id="lockBody" x1="0" y1="0" x2="0" y2="1">
 <stop offset="0" stop-color="#5a5a5a"/><stop offset="0.12" stop-color="#6e6e6e"/><stop offset="0.15" stop-color="#7d7d7d"/><stop offset="0.5" stop-color="#838383"/>
 <stop offset="0.85" stop-color="#7a7a7a"/><stop offset="0.88" stop-color="#6e6e6e"/><stop offset="1" stop-color="#5c5c5c"/>
</linearGradient>
<linearGradient id="strike" x1="0" y1="0" x2="1" y2="0">
 <stop offset="0" stop-color="#666"/><stop offset="0.2" stop-color="#858585"/><stop offset="0.75" stop-color="#7e7e7e"/><stop offset="1" stop-color="#5c5c5c"/>
</linearGradient>
<radialGradient id="cyl" cx="0.45" cy="0.4" r="0.6">
 <stop offset="0" stop-color="#e6e6e6"/><stop offset="0.7" stop-color="#a9a9a9"/><stop offset="1" stop-color="#555"/>
</radialGradient>

<linearGradient id="camBody" x1="0" y1="0" x2="0" y2="1">
 <stop offset="0" stop-color="#ececec"/><stop offset="0.3" stop-color="#f6f6f6"/><stop offset="0.7" stop-color="#f0f0f0"/><stop offset="1" stop-color="#dadada"/>
</linearGradient>
<linearGradient id="camBase" x1="0" y1="0" x2="0" y2="1">
 <stop offset="0" stop-color="#f0f0f0"/><stop offset="0.5" stop-color="#e2e2e2"/><stop offset="1" stop-color="#cfcfcf"/>
</linearGradient>
<radialGradient id="irRing" cx="0.5" cy="0.5" r="0.5">
 <stop offset="0" stop-color="#5e5b5b"/><stop offset="0.6" stop-color="#6f6b6b"/><stop offset="0.92" stop-color="#7a7676"/><stop offset="1" stop-color="#9a9696"/>
</radialGradient>

<linearGradient id="pirBody" x1="0" y1="0" x2="1" y2="0">
 <stop offset="0" stop-color="#d2d2d2"/><stop offset="0.1" stop-color="#ececec"/><stop offset="0.85" stop-color="#efefef"/><stop offset="1" stop-color="#dadada"/>
</linearGradient>
<linearGradient id="pirWin" x1="0" y1="0" x2="1" y2="0">
 <stop offset="0" stop-color="#d6d6d6"/><stop offset="0.15" stop-color="#f6f6f6"/><stop offset="0.85" stop-color="#f4f4f4"/><stop offset="1" stop-color="#d8d8d8"/>
</linearGradient>
<linearGradient id="skin" x1="0.2" y1="0" x2="0.9" y2="1">
 <stop offset="0" stop-color="#f0d8d0"/><stop offset="0.5" stop-color="#e4c0b6"/><stop offset="1" stop-color="#cfa096"/>
</linearGradient>
<linearGradient id="phImg" x1="0" y1="0" x2="1" y2="1">
 <stop offset="0" stop-color="#aeb0c4"/><stop offset="0.5" stop-color="#d2d0da"/><stop offset="1" stop-color="#9eaac8"/>
</linearGradient></defs><rect width="950" height="807" fill="#ffffff"/><rect x="328" y="41.1" width="32.9" height="5.5" fill="#1890e6"/><rect x="341.8" y="27.5" width="5.3" height="32.2" fill="#1890e6"/><g transform="translate(126,148)"><path d="M0,0.2 L15.9,0.5 Q16.1,1 16.0,2 L15.3,21.5 Q15.1,22.8 14.1,22.8 L2.5,22.8 Q2,22.8 2,21.5 L2,11.5 L-1,11.5 L-1,3.5 L0,3 Z" fill="#121212"/><rect x="-5.8" y="5.5" width="5.2" height="2.2" fill="#3a3a3a"/><rect x="-5.8" y="5.5" width="2.2" height="2.2" fill="#8a8a8a"/><rect x="3.6" y="22.400000000000002" width="2.1" height="5.9" fill="#141414"/><rect x="11.5" y="2.5" width="1.6" height="16.8" fill="#262626"/></g><g transform="translate(341.3,147.9)"><path d="M0,0.2 L15.9,0.5 Q16.1,1 16.0,2 L15.3,21.5 Q15.1,22.8 14.1,22.8 L2.5,22.8 Q2,22.8 2,21.5 L2,11.5 L-1,11.5 L-1,3.5 L0,3 Z" fill="#121212"/><rect x="-5.8" y="5.5" width="5.2" height="2.2" fill="#3a3a3a"/><rect x="-5.8" y="5.5" width="2.2" height="2.2" fill="#8a8a8a"/><rect x="3.6" y="22.400000000000002" width="2.1" height="5.9" fill="#141414"/><rect x="11.5" y="2.5" width="1.6" height="16.8" fill="#262626"/></g><g transform="translate(552.2,148)"><path d="M0,0.2 L15.9,0.5 Q16.1,1 16.0,2 L15.3,21.5 Q15.1,22.8 14.1,22.8 L2.5,22.8 Q2,22.8 2,21.5 L2,11.5 L-1,11.5 L-1,3.5 L0,3 Z" fill="#121212"/><rect x="-5.8" y="5.5" width="5.2" height="2.2" fill="#3a3a3a"/><rect x="-5.8" y="5.5" width="2.2" height="2.2" fill="#8a8a8a"/><rect x="3.6" y="22.400000000000002" width="2.1" height="5.9" fill="#141414"/><rect x="11.5" y="2.5" width="1.6" height="16.8" fill="#262626"/></g><g transform="translate(769.1,147.6)"><path d="M0,0.2 L15.9,0.5 Q16.1,1 16.0,2 L15.3,21.5 Q15.1,22.8 14.1,22.8 L2.5,22.8 Q2,22.8 2,21.5 L2,11.5 L-1,11.5 L-1,3.5 L0,3 Z" fill="#121212"/><rect x="-5.8" y="5.5" width="5.2" height="2.2" fill="#3a3a3a"/><rect x="-5.8" y="5.5" width="2.2" height="2.2" fill="#8a8a8a"/><rect x="3.6" y="22.400000000000002" width="2.1" height="5.9" fill="#141414"/><rect x="11.5" y="2.5" width="1.6" height="16.8" fill="#262626"/></g><g transform="translate(138.6,533.4)"><path d="M0,0.2 L15.4,0.5 Q15.6,1 15.5,2 L14.8,22.099999999999998 Q14.6,23.4 13.6,23.4 L2.5,23.4 Q2,23.4 2,22.099999999999998 L2,11.5 L-1,11.5 L-1,3.5 L0,3 Z" fill="#121212"/><rect x="-5.8" y="5.5" width="5.2" height="2.2" fill="#3a3a3a"/><rect x="-5.8" y="5.5" width="2.2" height="2.2" fill="#8a8a8a"/><rect x="3.6" y="23.0" width="2.1" height="8.0" fill="#141414"/><rect x="11.0" y="2.5" width="1.6" height="17.4" fill="#262626"/></g><g transform="translate(377.7,533.4)"><path d="M0,0.2 L15.4,0.5 Q15.6,1 15.5,2 L14.8,22.099999999999998 Q14.6,23.4 13.6,23.4 L2.5,23.4 Q2,23.4 2,22.099999999999998 L2,11.5 L-1,11.5 L-1,3.5 L0,3 Z" fill="#121212"/><rect x="-5.8" y="5.5" width="5.2" height="2.2" fill="#3a3a3a"/><rect x="-5.8" y="5.5" width="2.2" height="2.2" fill="#8a8a8a"/><rect x="3.6" y="23.0" width="2.1" height="8.0" fill="#141414"/><rect x="11.0" y="2.5" width="1.6" height="17.4" fill="#262626"/></g><g fill="none" stroke="#1a6cc4" stroke-width="2.45" stroke-linecap="round"><path d="M34.4,170.8 A6.8,6.8 0 0 0 31.4,180.4"/><path d="M33.2,165.6 A12.1,12.1 0 0 0 26.3,182.1"/></g><circle cx="37.3" cy="177" r="2.1" fill="#1a6cc4"/><g stroke="#4e4e4e" stroke-width="3.2" fill="none" stroke-linejoin="miter"><path d="M213,224.4 H259"/><path d="M430,224.4 H476"/><path d="M648,224.5 H694"/><path d="M92,286 V459.5"/><path d="M118.1,286 V412.5 H327 V459.6"/><path d="M145.5,286 V388.1 H577.8 V478"/><path d="M173,286 V364 H777.7 V478"/></g><g stroke="#4b4b4b" stroke-width="2" fill="none"><path d="M577.8,477.8 H647"/><path d="M577.8,477 V591.8 H619"/><path d="M777.7,477.8 H839.5"/><path d="M777.7,477 V591.7 H818.6"/></g><g stroke="#4b4b4b" stroke-width="1.6" stroke-linecap="round"><line x1="233" y1="232" x2="248.5" y2="215.7"/><line x1="448.6" y1="232.5" x2="464.2" y2="215.7"/><line x1="664.2" y1="232.5" x2="679.6" y2="215.8"/><line x1="84" y1="406" x2="99.7" y2="388.6"/><line x1="218.9" y1="420.7" x2="234.4" y2="404.3"/><line x1="608.4" y1="484.8" x2="624" y2="468"/><line x1="808.4" y1="484.7" x2="824" y2="468"/><line x1="569.2" y1="570.1" x2="584.5" y2="553.2"/><line x1="769.5" y1="569.5" x2="784.5" y2="553.4"/></g><g fill="#111"><rect x="117" y="564.2" width="60" height="2.4"/><rect x="117" y="569" width="60" height="2.4"/><rect x="360.8" y="564.2" width="55" height="2.4"/><rect x="360.8" y="569" width="55" height="2.4"/></g><rect x="41.4" y="181" width="171.5" height="14.4" fill="url(#silTop)"/><rect x="40.6" y="195.4" width="173.3" height="77" fill="#040404"/><rect x="40.6" y="272.4" width="172.5" height="15.6" fill="url(#silBot)"/><use href="#scr" x="71.2" y="203.3"/><circle cx="54.8" cy="203" r="2.2" fill="#802028" opacity="0.5"/><circle cx="54.8" cy="203" r="1.4" fill="#e04a58"/><circle cx="54.8" cy="207.4" r="1.1" fill="#5a68c8"/><circle cx="54.8" cy="211.8" r="1.1" fill="#b8bad8"/><circle cx="60.7" cy="276.8" r="1.3" fill="#111"/><path d="M196.4,205.6 l1.4,-2.4 l1.4,1 l1.4,-1.4 l1,2.8z" fill="#b8ccff"/><rect x="193.2" y="207.8" width="11.6" height="1.3" fill="#2f52d6"/><circle cx="199.0" cy="216.4" r="1.2" fill="#9ab4ff"/><path d="M197.7,217.6 h2.6 l2.2,3 h-7z" fill="#5b84f2"/><rect x="194.7" y="222" width="8.6" height="1.2" fill="#2f52d6"/><path d="M195.4,233.6 Q199.0,229 202.6,232.4" stroke="#a8c0ff" stroke-width="1.8" fill="none"/><path d="M197.8,234.5 Q197.5,237 199.8,237.6" stroke="#5b84f2" stroke-width="1.6" fill="none"/><path d="M196.2,246.6 h5.6 v-1.4 h-5.6z M196.2,247.4 h5.6 v1.2 h-5.6z" fill="#9ab4ff"/><rect x="195.8" y="250.4" width="6.4" height="1.3" fill="#2f52d6"/><path d="M195.4,262.6 Q199.0,258.4 202.6,262" stroke="#e82a34" stroke-width="1.8" fill="none"/><path d="M198.0,263 l-1,2.4 h3.4 l-0.4,-2.4z" fill="#e82a34"/><rect x="195.4" y="265.2" width="7.2" height="1.2" fill="#c8202a"/><rect x="259.2" y="181" width="170.39999999999998" height="14.4" fill="url(#silTop)"/><rect x="258.4" y="195.4" width="172.2" height="77" fill="#040404"/><rect x="258.4" y="272.4" width="171.39999999999998" height="15.6" fill="url(#silBot)"/><use href="#scr" x="289.0" y="203.3"/><circle cx="272.59999999999997" cy="203" r="2.2" fill="#802028" opacity="0.5"/><circle cx="272.59999999999997" cy="203" r="1.4" fill="#e04a58"/><circle cx="272.59999999999997" cy="207.4" r="1.1" fill="#5a68c8"/><circle cx="272.59999999999997" cy="211.8" r="1.1" fill="#b8bad8"/><circle cx="278.5" cy="276.8" r="1.3" fill="#111"/><path d="M413.09999999999997,205.6 l1.4,-2.4 l1.4,1 l1.4,-1.4 l1,2.8z" fill="#b8ccff"/><rect x="409.9" y="207.8" width="11.6" height="1.3" fill="#2f52d6"/><circle cx="415.7" cy="216.4" r="1.2" fill="#9ab4ff"/><path d="M414.4,217.6 h2.6 l2.2,3 h-7z" fill="#5b84f2"/><rect x="411.4" y="222" width="8.6" height="1.2" fill="#2f52d6"/><path d="M412.09999999999997,233.6 Q415.7,229 419.3,232.4" stroke="#a8c0ff" stroke-width="1.8" fill="none"/><path d="M414.5,234.5 Q414.2,237 416.5,237.6" stroke="#5b84f2" stroke-width="1.6" fill="none"/><path d="M412.9,246.6 h5.6 v-1.4 h-5.6z M412.9,247.4 h5.6 v1.2 h-5.6z" fill="#9ab4ff"/><rect x="412.5" y="250.4" width="6.4" height="1.3" fill="#2f52d6"/><path d="M412.09999999999997,262.6 Q415.7,258.4 419.3,262" stroke="#e82a34" stroke-width="1.8" fill="none"/><path d="M414.7,263 l-1,2.4 h3.4 l-0.4,-2.4z" fill="#e82a34"/><rect x="412.09999999999997" y="265.2" width="7.2" height="1.2" fill="#c8202a"/><rect x="476.8" y="181" width="171.29999999999998" height="14.4" fill="url(#silTop)"/><rect x="476" y="195.4" width="173.1" height="77" fill="#040404"/><rect x="476" y="272.4" width="172.29999999999998" height="15.6" fill="url(#silBot)"/><use href="#scr" x="507.0" y="203.3"/><circle cx="490.2" cy="203" r="2.2" fill="#802028" opacity="0.5"/><circle cx="490.2" cy="203" r="1.4" fill="#e04a58"/><circle cx="490.2" cy="207.4" r="1.1" fill="#5a68c8"/><circle cx="490.2" cy="211.8" r="1.1" fill="#b8bad8"/><circle cx="496.1" cy="276.8" r="1.3" fill="#111"/><path d="M631.6,205.6 l1.4,-2.4 l1.4,1 l1.4,-1.4 l1,2.8z" fill="#b8ccff"/><rect x="628.4000000000001" y="207.8" width="11.6" height="1.3" fill="#2f52d6"/><circle cx="634.2" cy="216.4" r="1.2" fill="#9ab4ff"/><path d="M632.9000000000001,217.6 h2.6 l2.2,3 h-7z" fill="#5b84f2"/><rect x="629.9000000000001" y="222" width="8.6" height="1.2" fill="#2f52d6"/><path d="M630.6,233.6 Q634.2,229 637.8000000000001,232.4" stroke="#a8c0ff" stroke-width="1.8" fill="none"/><path d="M633.0,234.5 Q632.7,237 635.0,237.6" stroke="#5b84f2" stroke-width="1.6" fill="none"/><path d="M631.4000000000001,246.6 h5.6 v-1.4 h-5.6z M631.4000000000001,247.4 h5.6 v1.2 h-5.6z" fill="#9ab4ff"/><rect x="631.0" y="250.4" width="6.4" height="1.3" fill="#2f52d6"/><path d="M630.6,262.6 Q634.2,258.4 637.8000000000001,262" stroke="#e82a34" stroke-width="1.8" fill="none"/><path d="M633.2,263 l-1,2.4 h3.4 l-0.4,-2.4z" fill="#e82a34"/><rect x="630.6" y="265.2" width="7.2" height="1.2" fill="#c8202a"/><rect x="694.1999999999999" y="181" width="171.0" height="14.4" fill="url(#silTop)"/><rect x="693.4" y="195.4" width="172.8" height="77" fill="#040404"/><rect x="693.4" y="272.4" width="172.0" height="15.6" fill="url(#silBot)"/><use href="#scr" x="725.3" y="203.3"/><circle cx="707.6" cy="203" r="2.2" fill="#802028" opacity="0.5"/><circle cx="707.6" cy="203" r="1.4" fill="#e04a58"/><circle cx="707.6" cy="207.4" r="1.1" fill="#5a68c8"/><circle cx="707.6" cy="211.8" r="1.1" fill="#b8bad8"/><circle cx="713.5" cy="276.8" r="1.3" fill="#111"/><path d="M848.7,205.6 l1.4,-2.4 l1.4,1 l1.4,-1.4 l1,2.8z" fill="#b8ccff"/><rect x="845.5000000000001" y="207.8" width="11.6" height="1.3" fill="#2f52d6"/><circle cx="851.3000000000001" cy="216.4" r="1.2" fill="#9ab4ff"/><path d="M850.0000000000001,217.6 h2.6 l2.2,3 h-7z" fill="#5b84f2"/><rect x="847.0000000000001" y="222" width="8.6" height="1.2" fill="#2f52d6"/><path d="M847.7,233.6 Q851.3000000000001,229 854.9000000000001,232.4" stroke="#a8c0ff" stroke-width="1.8" fill="none"/><path d="M850.1,234.5 Q849.8000000000001,237 852.1,237.6" stroke="#5b84f2" stroke-width="1.6" fill="none"/><path d="M848.5000000000001,246.6 h5.6 v-1.4 h-5.6z M848.5000000000001,247.4 h5.6 v1.2 h-5.6z" fill="#9ab4ff"/><rect x="848.1" y="250.4" width="6.4" height="1.3" fill="#2f52d6"/><path d="M847.7,262.6 Q851.3000000000001,258.4 854.9000000000001,262" stroke="#e82a34" stroke-width="1.8" fill="none"/><path d="M850.3000000000001,263 l-1,2.4 h3.4 l-0.4,-2.4z" fill="#e82a34"/><rect x="847.7" y="265.2" width="7.2" height="1.2" fill="#c8202a"/><g transform="translate(0,0)"><rect x="56.9" y="462.9" width="57.5" height="160.6" rx="7" fill="url(#doorFrame)" stroke="#a6a6a6" stroke-width="0.8"/><rect x="58" y="464" width="55.3" height="150" rx="5.5" fill="none" stroke="#eeeeee" stroke-width="1.1"/><rect x="59.4" y="468.2" width="52.3" height="154.8" rx="6" fill="url(#doorPanel)"/><path d="M57.3,590 L57.3,615.5 Q57.3,623.3 65.3,623.3 L106,623.3 Q114,623.3 114,615.5 L114,590Z" fill="url(#doorCap)"/><rect x="60" y="469" width="50.6" height="0.6" fill="#a4a29f" opacity="0.12"/><rect x="60" y="472" width="50.6" height="0.6" fill="#a4a29f" opacity="0.22"/><rect x="60" y="475" width="50.6" height="0.6" fill="#a4a29f" opacity="0.20"/><rect x="60" y="478" width="50.6" height="0.6" fill="#a4a29f" opacity="0.17"/><rect x="60" y="481" width="50.6" height="0.6" fill="#a4a29f" opacity="0.14"/><rect x="60" y="484" width="50.6" height="0.6" fill="#a4a29f" opacity="0.12"/><rect x="60" y="487" width="50.6" height="0.6" fill="#a4a29f" opacity="0.22"/><rect x="60" y="490" width="50.6" height="0.6" fill="#a4a29f" opacity="0.20"/><rect x="60" y="493" width="50.6" height="0.6" fill="#a4a29f" opacity="0.17"/><rect x="60" y="496" width="50.6" height="0.6" fill="#a4a29f" opacity="0.14"/><rect x="60" y="499" width="50.6" height="0.6" fill="#a4a29f" opacity="0.12"/><rect x="60" y="502" width="50.6" height="0.6" fill="#a4a29f" opacity="0.22"/><rect x="60" y="505" width="50.6" height="0.6" fill="#a4a29f" opacity="0.20"/><rect x="60" y="508" width="50.6" height="0.6" fill="#a4a29f" opacity="0.17"/><rect x="60" y="511" width="50.6" height="0.6" fill="#a4a29f" opacity="0.14"/><rect x="60" y="514" width="50.6" height="0.6" fill="#a4a29f" opacity="0.12"/><rect x="60" y="517" width="50.6" height="0.6" fill="#a4a29f" opacity="0.22"/><rect x="60" y="520" width="50.6" height="0.6" fill="#a4a29f" opacity="0.20"/><rect x="60" y="523" width="50.6" height="0.6" fill="#a4a29f" opacity="0.17"/><rect x="60" y="526" width="50.6" height="0.6" fill="#a4a29f" opacity="0.14"/><rect x="60" y="529" width="50.6" height="0.6" fill="#a4a29f" opacity="0.12"/><rect x="60" y="532" width="50.6" height="0.6" fill="#a4a29f" opacity="0.22"/><rect x="60" y="535" width="50.6" height="0.6" fill="#a4a29f" opacity="0.20"/><rect x="60" y="538" width="50.6" height="0.6" fill="#a4a29f" opacity="0.17"/><rect x="60" y="541" width="50.6" height="0.6" fill="#a4a29f" opacity="0.14"/><rect x="60" y="544" width="50.6" height="0.6" fill="#a4a29f" opacity="0.12"/><rect x="60" y="547" width="50.6" height="0.6" fill="#a4a29f" opacity="0.22"/><rect x="60" y="550" width="50.6" height="0.6" fill="#a4a29f" opacity="0.20"/><rect x="60" y="553" width="50.6" height="0.6" fill="#a4a29f" opacity="0.17"/><rect x="60" y="556" width="50.6" height="0.6" fill="#a4a29f" opacity="0.14"/><rect x="60" y="559" width="50.6" height="0.6" fill="#a4a29f" opacity="0.12"/><rect x="60" y="562" width="50.6" height="0.6" fill="#a4a29f" opacity="0.22"/><rect x="60" y="565" width="50.6" height="0.6" fill="#a4a29f" opacity="0.20"/><rect x="60" y="568" width="50.6" height="0.6" fill="#a4a29f" opacity="0.17"/><rect x="60" y="571" width="50.6" height="0.6" fill="#a4a29f" opacity="0.14"/><rect x="60" y="574" width="50.6" height="0.6" fill="#a4a29f" opacity="0.12"/><rect x="60" y="577" width="50.6" height="0.6" fill="#a4a29f" opacity="0.22"/><rect x="60" y="580" width="50.6" height="0.6" fill="#a4a29f" opacity="0.20"/><rect x="60" y="583" width="50.6" height="0.6" fill="#a4a29f" opacity="0.17"/><rect x="60" y="586" width="50.6" height="0.6" fill="#a4a29f" opacity="0.14"/><rect x="60" y="589" width="50.6" height="0.6" fill="#a4a29f" opacity="0.12"/><rect x="60" y="592" width="50.6" height="0.6" fill="#a4a29f" opacity="0.22"/><rect x="60" y="595" width="50.6" height="0.6" fill="#a4a29f" opacity="0.20"/><rect x="60" y="598" width="50.6" height="0.6" fill="#a4a29f" opacity="0.17"/><rect x="60" y="601" width="50.6" height="0.6" fill="#a4a29f" opacity="0.14"/><rect x="60" y="604" width="50.6" height="0.6" fill="#a4a29f" opacity="0.12"/><rect x="60" y="607" width="50.6" height="0.6" fill="#a4a29f" opacity="0.22"/><rect x="60" y="610" width="50.6" height="0.6" fill="#a4a29f" opacity="0.20"/><rect x="60" y="613" width="50.6" height="0.6" fill="#a4a29f" opacity="0.17"/><rect x="60" y="616" width="50.6" height="0.6" fill="#a4a29f" opacity="0.14"/><rect x="59.6" y="526.1" width="51.4" height="10.3" fill="#0c0c0c"/><circle cx="85.1" cy="501.1" r="13.4" fill="url(#lens)"/><circle cx="85.1" cy="501.1" r="6" fill="none" stroke="#333" stroke-width="1"/><path d="M82,498 A4,4 0 0 1 88,497.5" stroke="#4a4a4a" stroke-width="1" fill="none"/><circle cx="85.1" cy="481" r="1.3" fill="#111"/><circle cx="85.6" cy="565.4" r="10.8" fill="url(#btn)" stroke="#262626" stroke-width="1.7"/><rect x="78" y="598.6" width="16" height="0.9" fill="#4a4a4a"/><rect x="79" y="602" width="14" height="0.9" fill="#4a4a4a"/></g><g transform="translate(244.2,1.0)"><rect x="56.9" y="462.9" width="57.5" height="160.6" rx="7" fill="url(#doorFrame)" stroke="#a6a6a6" stroke-width="0.8"/><rect x="58" y="464" width="55.3" height="150" rx="5.5" fill="none" stroke="#eeeeee" stroke-width="1.1"/><rect x="59.4" y="468.2" width="52.3" height="154.8" rx="6" fill="url(#doorPanel)"/><path d="M57.3,590 L57.3,615.5 Q57.3,623.3 65.3,623.3 L106,623.3 Q114,623.3 114,615.5 L114,590Z" fill="url(#doorCap)"/><rect x="60" y="469" width="50.6" height="0.6" fill="#a4a29f" opacity="0.12"/><rect x="60" y="472" width="50.6" height="0.6" fill="#a4a29f" opacity="0.22"/><rect x="60" y="475" width="50.6" height="0.6" fill="#a4a29f" opacity="0.20"/><rect x="60" y="478" width="50.6" height="0.6" fill="#a4a29f" opacity="0.17"/><rect x="60" y="481" width="50.6" height="0.6" fill="#a4a29f" opacity="0.14"/><rect x="60" y="484" width="50.6" height="0.6" fill="#a4a29f" opacity="0.12"/><rect x="60" y="487" width="50.6" height="0.6" fill="#a4a29f" opacity="0.22"/><rect x="60" y="490" width="50.6" height="0.6" fill="#a4a29f" opacity="0.20"/><rect x="60" y="493" width="50.6" height="0.6" fill="#a4a29f" opacity="0.17"/><rect x="60" y="496" width="50.6" height="0.6" fill="#a4a29f" opacity="0.14"/><rect x="60" y="499" width="50.6" height="0.6" fill="#a4a29f" opacity="0.12"/><rect x="60" y="502" width="50.6" height="0.6" fill="#a4a29f" opacity="0.22"/><rect x="60" y="505" width="50.6" height="0.6" fill="#a4a29f" opacity="0.20"/><rect x="60" y="508" width="50.6" height="0.6" fill="#a4a29f" opacity="0.17"/><rect x="60" y="511" width="50.6" height="0.6" fill="#a4a29f" opacity="0.14"/><rect x="60" y="514" width="50.6" height="0.6" fill="#a4a29f" opacity="0.12"/><rect x="60" y="517" width="50.6" height="0.6" fill="#a4a29f" opacity="0.22"/><rect x="60" y="520" width="50.6" height="0.6" fill="#a4a29f" opacity="0.20"/><rect x="60" y="523" width="50.6" height="0.6" fill="#a4a29f" opacity="0.17"/><rect x="60" y="526" width="50.6" height="0.6" fill="#a4a29f" opacity="0.14"/><rect x="60" y="529" width="50.6" height="0.6" fill="#a4a29f" opacity="0.12"/><rect x="60" y="532" width="50.6" height="0.6" fill="#a4a29f" opacity="0.22"/><rect x="60" y="535" width="50.6" height="0.6" fill="#a4a29f" opacity="0.20"/><rect x="60" y="538" width="50.6" height="0.6" fill="#a4a29f" opacity="0.17"/><rect x="60" y="541" width="50.6" height="0.6" fill="#a4a29f" opacity="0.14"/><rect x="60" y="544" width="50.6" height="0.6" fill="#a4a29f" opacity="0.12"/><rect x="60" y="547" width="50.6" height="0.6" fill="#a4a29f" opacity="0.22"/><rect x="60" y="550" width="50.6" height="0.6" fill="#a4a29f" opacity="0.20"/><rect x="60" y="553" width="50.6" height="0.6" fill="#a4a29f" opacity="0.17"/><rect x="60" y="556" width="50.6" height="0.6" fill="#a4a29f" opacity="0.14"/><rect x="60" y="559" width="50.6" height="0.6" fill="#a4a29f" opacity="0.12"/><rect x="60" y="562" width="50.6" height="0.6" fill="#a4a29f" opacity="0.22"/><rect x="60" y="565" width="50.6" height="0.6" fill="#a4a29f" opacity="0.20"/><rect x="60" y="568" width="50.6" height="0.6" fill="#a4a29f" opacity="0.17"/><rect x="60" y="571" width="50.6" height="0.6" fill="#a4a29f" opacity="0.14"/><rect x="60" y="574" width="50.6" height="0.6" fill="#a4a29f" opacity="0.12"/><rect x="60" y="577" width="50.6" height="0.6" fill="#a4a29f" opacity="0.22"/><rect x="60" y="580" width="50.6" height="0.6" fill="#a4a29f" opacity="0.20"/><rect x="60" y="583" width="50.6" height="0.6" fill="#a4a29f" opacity="0.17"/><rect x="60" y="586" width="50.6" height="0.6" fill="#a4a29f" opacity="0.14"/><rect x="60" y="589" width="50.6" height="0.6" fill="#a4a29f" opacity="0.12"/><rect x="60" y="592" width="50.6" height="0.6" fill="#a4a29f" opacity="0.22"/><rect x="60" y="595" width="50.6" height="0.6" fill="#a4a29f" opacity="0.20"/><rect x="60" y="598" width="50.6" height="0.6" fill="#a4a29f" opacity="0.17"/><rect x="60" y="601" width="50.6" height="0.6" fill="#a4a29f" opacity="0.14"/><rect x="60" y="604" width="50.6" height="0.6" fill="#a4a29f" opacity="0.12"/><rect x="60" y="607" width="50.6" height="0.6" fill="#a4a29f" opacity="0.22"/><rect x="60" y="610" width="50.6" height="0.6" fill="#a4a29f" opacity="0.20"/><rect x="60" y="613" width="50.6" height="0.6" fill="#a4a29f" opacity="0.17"/><rect x="60" y="616" width="50.6" height="0.6" fill="#a4a29f" opacity="0.14"/><rect x="59.6" y="526.1" width="51.4" height="10.3" fill="#0c0c0c"/><circle cx="85.1" cy="501.1" r="13.4" fill="url(#lens)"/><circle cx="85.1" cy="501.1" r="6" fill="none" stroke="#333" stroke-width="1"/><path d="M82,498 A4,4 0 0 1 88,497.5" stroke="#4a4a4a" stroke-width="1" fill="none"/><circle cx="85.1" cy="481" r="1.3" fill="#111"/><circle cx="85.6" cy="565.4" r="10.8" fill="url(#btn)" stroke="#262626" stroke-width="1.7"/><rect x="78" y="598.6" width="16" height="0.9" fill="#4a4a4a"/><rect x="79" y="602" width="14" height="0.9" fill="#4a4a4a"/></g><g transform="translate(0,0)"><rect x="176.8" y="549.3" width="59.1" height="43.6" rx="4" fill="url(#lockBody)"/><rect x="178" y="555" width="57" height="0.9" fill="#a8a8a8" opacity="0.8"/><rect x="178" y="586.2" width="57" height="0.9" fill="#b0b0b0" opacity="0.8"/><rect x="235.9" y="562.4" width="8.4" height="11.6" fill="#555"/><rect x="244.1" y="549.3" width="15.5" height="43.6" rx="3.2" fill="url(#strike)"/><rect x="245.2" y="550.2" width="13.3" height="5" rx="2" fill="#bdbdbd" opacity="0.8"/><circle cx="206.4" cy="573" r="12.5" fill="#8a8a8a" opacity="0.6"/><rect x="199.6" y="566.2" width="13.6" height="13.6" rx="3" transform="rotate(45 206.4 573)" fill="#5e5e5e" stroke="#d4d4d4" stroke-width="1.8"/><circle cx="206.4" cy="573" r="6.2" fill="#333"/><circle cx="206.4" cy="573" r="4.4" fill="#c2c2c2"/><path d="M208.6,571.2 A2.6,2.6 0 1 0 208.6,574.8" fill="none" stroke="#2a2a2a" stroke-width="1.4"/><rect x="176.8" y="577.4" width="13.1" height="7.3" fill="#e6d2c4"/><circle cx="180" cy="580.6" r="0.8" fill="#d05030"/><circle cx="183.3" cy="580.6" r="0.8" fill="#d05030"/><circle cx="186.6" cy="580.6" r="0.8" fill="#d05030"/><circle cx="218.5" cy="557" r="1" fill="#555"/></g><g transform="translate(239.1,0)"><rect x="176.8" y="549.3" width="59.1" height="43.6" rx="4" fill="url(#lockBody)"/><rect x="178" y="555" width="57" height="0.9" fill="#a8a8a8" opacity="0.8"/><rect x="178" y="586.2" width="57" height="0.9" fill="#b0b0b0" opacity="0.8"/><rect x="235.9" y="562.4" width="8.4" height="11.6" fill="#555"/><rect x="244.1" y="549.3" width="15.5" height="43.6" rx="3.2" fill="url(#strike)"/><rect x="245.2" y="550.2" width="13.3" height="5" rx="2" fill="#bdbdbd" opacity="0.8"/><circle cx="206.4" cy="573" r="12.5" fill="#8a8a8a" opacity="0.6"/><rect x="199.6" y="566.2" width="13.6" height="13.6" rx="3" transform="rotate(45 206.4 573)" fill="#5e5e5e" stroke="#d4d4d4" stroke-width="1.8"/><circle cx="206.4" cy="573" r="6.2" fill="#333"/><circle cx="206.4" cy="573" r="4.4" fill="#c2c2c2"/><path d="M208.6,571.2 A2.6,2.6 0 1 0 208.6,574.8" fill="none" stroke="#2a2a2a" stroke-width="1.4"/><rect x="176.8" y="577.4" width="13.1" height="7.3" fill="#e6d2c4"/><circle cx="180" cy="580.6" r="0.8" fill="#d05030"/><circle cx="183.3" cy="580.6" r="0.8" fill="#d05030"/><circle cx="186.6" cy="580.6" r="0.8" fill="#d05030"/><circle cx="218.5" cy="557" r="1" fill="#555"/></g><g transform="translate(0,0)"><path d="M632.5,507 Q633,500 658,499.5 Q683,500 683,507 L683,511 Q682,517.5 658,517.5 Q634,517.5 632.5,511Z" fill="url(#camBase)" stroke="#d2d2d2" stroke-width="0.6"/><ellipse cx="658" cy="504.5" rx="24" ry="4.8" fill="#efefef"/><ellipse cx="650" cy="505" rx="2" ry="1" fill="#c8c8c8"/><path d="M646.3,491.6 L664.2,491.6 L665,503 L645.5,503Z" fill="#e4e4e4"/><rect x="646.3" y="491.6" width="17.9" height="1.5" fill="#f4f4f4"/><path d="M650,453 Q651,449.3 656,449.3 L684,449.3 L684,497 L650,497Z" fill="#e7e7e7"/><rect x="655" y="451.6" width="16" height="1.5" fill="#cfcfcf"/><rect x="655" y="456.2" width="16" height="1.5" fill="#cfcfcf"/><rect x="650" y="462" width="4" height="30" fill="#d9d9d9" opacity="0.8"/><rect x="646" y="464.8" width="4.4" height="7" rx="1.6" fill="#d4d4d4"/><path d="M684,449.6 L712.4,454.2 L712.4,505.2 L684,497.6 A17.2,24 0 0 1 684,449.6Z" fill="url(#camBody)"/><path d="M684,449.6 A17.2,24 0 0 0 671.5,496" stroke="#9e9e9e" stroke-width="1.3" fill="none"/><path d="M685.5,450.5 A16,22.5 0 0 0 674,494" stroke="#dedede" stroke-width="1" fill="none"/><ellipse cx="712.4" cy="479.7" rx="19.2" ry="25.5" fill="#f3f3f3" stroke="#dadada" stroke-width="0.8"/><ellipse cx="712.1" cy="480" rx="17.2" ry="23.1" fill="url(#irRing)"/><circle cx="725.7" cy="480.0" r="1.5" fill="#aaa5a5"/><circle cx="725.2" cy="484.8" r="1.5" fill="#aaa5a5"/><circle cx="723.9" cy="489.2" r="1.5" fill="#aaa5a5"/><circle cx="721.7" cy="493.0" r="1.5" fill="#aaa5a5"/><circle cx="718.9" cy="495.9" r="1.5" fill="#aaa5a5"/><circle cx="715.6" cy="497.8" r="1.5" fill="#aaa5a5"/><circle cx="712.1" cy="498.4" r="1.5" fill="#aaa5a5"/><circle cx="708.6" cy="497.8" r="1.5" fill="#aaa5a5"/><circle cx="705.3" cy="495.9" r="1.5" fill="#aaa5a5"/><circle cx="702.5" cy="493.0" r="1.5" fill="#aaa5a5"/><circle cx="700.3" cy="489.2" r="1.5" fill="#aaa5a5"/><circle cx="699.0" cy="484.8" r="1.5" fill="#aaa5a5"/><circle cx="698.5" cy="480.0" r="1.5" fill="#aaa5a5"/><circle cx="699.0" cy="475.2" r="1.5" fill="#aaa5a5"/><circle cx="700.3" cy="470.8" r="1.5" fill="#aaa5a5"/><circle cx="702.5" cy="467.0" r="1.5" fill="#aaa5a5"/><circle cx="705.3" cy="464.1" r="1.5" fill="#aaa5a5"/><circle cx="708.6" cy="462.2" r="1.5" fill="#aaa5a5"/><circle cx="712.1" cy="461.6" r="1.5" fill="#aaa5a5"/><circle cx="715.6" cy="462.2" r="1.5" fill="#aaa5a5"/><circle cx="718.9" cy="464.1" r="1.5" fill="#aaa5a5"/><circle cx="721.7" cy="467.0" r="1.5" fill="#aaa5a5"/><circle cx="723.9" cy="470.8" r="1.5" fill="#aaa5a5"/><circle cx="725.2" cy="475.2" r="1.5" fill="#aaa5a5"/><ellipse cx="711.6" cy="480.5" rx="8.6" ry="9.8" fill="#262424"/><ellipse cx="711.6" cy="480.3" rx="6" ry="7" fill="#4a4747"/></g><g transform="translate(189,0)"><path d="M632.5,507 Q633,500 658,499.5 Q683,500 683,507 L683,511 Q682,517.5 658,517.5 Q634,517.5 632.5,511Z" fill="url(#camBase)" stroke="#d2d2d2" stroke-width="0.6"/><ellipse cx="658" cy="504.5" rx="24" ry="4.8" fill="#efefef"/><ellipse cx="650" cy="505" rx="2" ry="1" fill="#c8c8c8"/><path d="M646.3,491.6 L664.2,491.6 L665,503 L645.5,503Z" fill="#e4e4e4"/><rect x="646.3" y="491.6" width="17.9" height="1.5" fill="#f4f4f4"/><path d="M650,453 Q651,449.3 656,449.3 L684,449.3 L684,497 L650,497Z" fill="#e7e7e7"/><rect x="655" y="451.6" width="16" height="1.5" fill="#cfcfcf"/><rect x="655" y="456.2" width="16" height="1.5" fill="#cfcfcf"/><rect x="650" y="462" width="4" height="30" fill="#d9d9d9" opacity="0.8"/><rect x="646" y="464.8" width="4.4" height="7" rx="1.6" fill="#d4d4d4"/><path d="M684,449.6 L712.4,454.2 L712.4,505.2 L684,497.6 A17.2,24 0 0 1 684,449.6Z" fill="url(#camBody)"/><path d="M684,449.6 A17.2,24 0 0 0 671.5,496" stroke="#9e9e9e" stroke-width="1.3" fill="none"/><path d="M685.5,450.5 A16,22.5 0 0 0 674,494" stroke="#dedede" stroke-width="1" fill="none"/><ellipse cx="712.4" cy="479.7" rx="19.2" ry="25.5" fill="#f3f3f3" stroke="#dadada" stroke-width="0.8"/><ellipse cx="712.1" cy="480" rx="17.2" ry="23.1" fill="url(#irRing)"/><circle cx="725.7" cy="480.0" r="1.5" fill="#aaa5a5"/><circle cx="725.2" cy="484.8" r="1.5" fill="#aaa5a5"/><circle cx="723.9" cy="489.2" r="1.5" fill="#aaa5a5"/><circle cx="721.7" cy="493.0" r="1.5" fill="#aaa5a5"/><circle cx="718.9" cy="495.9" r="1.5" fill="#aaa5a5"/><circle cx="715.6" cy="497.8" r="1.5" fill="#aaa5a5"/><circle cx="712.1" cy="498.4" r="1.5" fill="#aaa5a5"/><circle cx="708.6" cy="497.8" r="1.5" fill="#aaa5a5"/><circle cx="705.3" cy="495.9" r="1.5" fill="#aaa5a5"/><circle cx="702.5" cy="493.0" r="1.5" fill="#aaa5a5"/><circle cx="700.3" cy="489.2" r="1.5" fill="#aaa5a5"/><circle cx="699.0" cy="484.8" r="1.5" fill="#aaa5a5"/><circle cx="698.5" cy="480.0" r="1.5" fill="#aaa5a5"/><circle cx="699.0" cy="475.2" r="1.5" fill="#aaa5a5"/><circle cx="700.3" cy="470.8" r="1.5" fill="#aaa5a5"/><circle cx="702.5" cy="467.0" r="1.5" fill="#aaa5a5"/><circle cx="705.3" cy="464.1" r="1.5" fill="#aaa5a5"/><circle cx="708.6" cy="462.2" r="1.5" fill="#aaa5a5"/><circle cx="712.1" cy="461.6" r="1.5" fill="#aaa5a5"/><circle cx="715.6" cy="462.2" r="1.5" fill="#aaa5a5"/><circle cx="718.9" cy="464.1" r="1.5" fill="#aaa5a5"/><circle cx="721.7" cy="467.0" r="1.5" fill="#aaa5a5"/><circle cx="723.9" cy="470.8" r="1.5" fill="#aaa5a5"/><circle cx="725.2" cy="475.2" r="1.5" fill="#aaa5a5"/><ellipse cx="711.6" cy="480.5" rx="8.6" ry="9.8" fill="#262424"/><ellipse cx="711.6" cy="480.3" rx="6" ry="7" fill="#4a4747"/></g><g transform="translate(0,0)"><rect x="618" y="556.6" width="39.5" height="71.7" rx="4" fill="url(#pirBody)"/><rect x="624.4" y="575.9" width="29" height="27.9" rx="2" fill="url(#pirWin)" stroke="#cfcfcf" stroke-width="0.8"/><rect x="620" y="606" width="36" height="6" fill="#e4e4e4" opacity="0.6"/><circle cx="639.7" cy="568.7" r="1.2" fill="#444"/></g><g transform="translate(199.8,0)"><rect x="618" y="556.6" width="39.5" height="71.7" rx="4" fill="url(#pirBody)"/><rect x="624.4" y="575.9" width="29" height="27.9" rx="2" fill="url(#pirWin)" stroke="#cfcfcf" stroke-width="0.8"/><rect x="620" y="606" width="36" height="6" fill="#e4e4e4" opacity="0.6"/><circle cx="639.7" cy="568.7" r="1.2" fill="#444"/></g><g filter="url(#b05)"><path d="M806,708 Q826,710 842,721 Q856,733 861,748 Q864,762 859,771 Q852,777 836,775.5 Q818,774 808,770 Q800,764 796,758 Q790,750 786,744 Q782,737 779,731 Q776,725 780,723 Q785,722 789,727 L794,733 Q792,722 798,714Z" fill="url(#skin)"/><path d="M778,724 Q775,730 780,735 Q784,740 788,741 Q786,734 782,727Z" fill="#d9aca0"/><path d="M771.2,706.2 Q770.2,708.6 772,711 L812.8,768.6 Q814.8,771 817.5,769.6 L845,756.4 Q847.6,754.6 846,752 L806,701.2 Q804.4,699.2 801.6,699.6 L774,704.4 Q771.8,704.9 771.2,706.2Z" fill="#f7f7f7" stroke="#cfcfcf" stroke-width="0.6"/><path d="M771.6,709 L813,768" stroke="#8a8a8a" stroke-width="0.9" fill="none"/><path d="M776.4,711.7 L803.5,701 L841.4,747.8 L813.6,761.7Z" fill="#121212"/><path d="M776.4,711.7 L803.5,701 L806.6,705 L779.4,715.9Z" fill="#2e6fd8"/><path d="M781.6,719 L809.6,708.6 L830.8,733.4 L801.2,745Z" fill="url(#phImg)"/><path d="M790,721 L806,715 L816,727 L800,733Z" fill="#dcdae0" opacity="0.8"/><path d="M799.6,742.8 L829.2,731.4 L830.8,733.4 L801.2,745Z" fill="#3a5ab8"/><circle cx="812.3" cy="755.8" r="2.6" fill="#e8404e"/><circle cx="817.4" cy="752.4" r="2.6" fill="#2fb150"/><circle cx="823.7" cy="749.5" r="2.6" fill="#2f7fe0"/><circle cx="829.2" cy="746.5" r="2.6" fill="#3aa0e8"/><circle cx="834.6" cy="743.6" r="2.6" fill="#e83848"/><ellipse cx="827" cy="761.5" rx="2.6" ry="1.8" transform="rotate(-28 827 761.5)" fill="none" stroke="#d0d0d0" stroke-width="0.6"/></g><g fill="none" stroke="#1a6fc8" stroke-width="2.522" stroke-linecap="round"><path d="M761.9,697.0 A6.596,6.596 0 0 0 759.0,706.3"/><path d="M760.7,692.0 A11.737,11.737 0 0 0 754.1,708.0"/></g><circle cx="764.7" cy="703" r="2.037" fill="#1a6fc8"/><text font-family="Liberation Sans, sans-serif" font-size="38.68" font-weight="bold" fill="#eb1852" transform="translate(234.00,59.00) scale(0.9827,1)">WIFI</text><text font-family="Liberation Sans, sans-serif" font-size="37.07" font-weight="bold" fill="#eb1852" transform="translate(381.40,59.00) scale(1.0335,1)">720P/960P</text><text font-family="Liberation Sans, sans-serif" font-size="38.45" font-weight="bold" fill="#eb1852" transform="translate(604.60,57.80) scale(1.0157,1)">system</text><text font-family="Liberation Sans, sans-serif" font-size="19.36" font-weight="bold" fill="#d6164f" transform="translate(105.80,138.00) scale(0.9808,1)">WIFI</text><text font-family="Liberation Sans, sans-serif" font-size="17.50" font-weight="bold" fill="#1c86d6" transform="translate(320.40,136.60) scale(1.0813,1)">Analog</text><text font-family="Liberation Sans, sans-serif" font-size="17.50" font-weight="bold" fill="#1c86d6" transform="translate(530.40,133.00) scale(1.0813,1)">Analog</text><text font-family="Liberation Sans, sans-serif" font-size="17.75" font-weight="bold" fill="#1c86d6" transform="translate(746.80,134.60) scale(1.0488,1)">Analog</text><text font-family="Liberation Sans, sans-serif" font-size="16.11" font-weight="normal" fill="#111" stroke="#111" stroke-width="0.35" transform="translate(233.00,208.00) scale(0.9930,1)">4C</text><text font-family="Liberation Sans, sans-serif" font-size="16.64" font-weight="normal" fill="#111" stroke="#111" stroke-width="0.35" transform="translate(448.40,207.80) scale(1.0129,1)">4C</text><text font-family="Liberation Sans, sans-serif" font-size="15.24" font-weight="normal" fill="#111" stroke="#111" stroke-width="0.35" transform="translate(663.20,208.00) scale(1.0244,1)">4C</text><text font-family="Liberation Sans, sans-serif" font-size="15.94" font-weight="normal" fill="#444" stroke="#444" stroke-width="0.35" transform="translate(60.40,404.40) scale(0.9826,1)">4C</text><text font-family="Liberation Sans, sans-serif" font-size="15.76" font-weight="normal" fill="#111" stroke="#111" stroke-width="0.35" transform="translate(195.60,433.40) scale(1.0421,1)">4C</text><text font-family="Liberation Sans, sans-serif" font-size="16.29" font-weight="normal" fill="#111" stroke="#111" stroke-width="0.35" transform="translate(603.60,455.00) scale(1.0095,1)">2C</text><text font-family="Liberation Sans, sans-serif" font-size="16.47" font-weight="normal" fill="#111" stroke="#111" stroke-width="0.35" transform="translate(803.60,455.00) scale(0.9975,1)">2C</text><text font-family="Liberation Sans, sans-serif" font-size="15.52" font-weight="normal" fill="#111" stroke="#111" stroke-width="0.35" transform="translate(539.00,564.20) scale(1.0307,1)">2C</text><text font-family="Liberation Sans, sans-serif" font-size="15.76" font-weight="normal" fill="#111" stroke="#111" stroke-width="0.35" transform="translate(739.00,564.20) scale(1.0429,1)">2C</text><text font-family="Liberation Sans, sans-serif" font-size="13.32" font-weight="normal" fill="#222" stroke="#222" stroke-width="0.25" transform="translate(658.00,432.60) scale(1.0276,1)">CAM1</text><text font-family="Liberation Sans, sans-serif" font-size="13.32" font-weight="normal" fill="#222" stroke="#222" stroke-width="0.25" transform="translate(860.80,432.60) scale(1.0426,1)">CAM2</text><text font-family="Liberation Sans, sans-serif" font-size="13.50" font-weight="normal" fill="#111" stroke="#111" stroke-width="0.25" transform="translate(621.00,647.40) scale(1.0734,1)">PIR1</text><text font-family="Liberation Sans, sans-serif" font-size="14.17" font-weight="normal" fill="#111" stroke="#111" stroke-width="0.25" transform="translate(821.20,648.40) scale(1.0217,1)">PIR2</text><text font-family="Liberation Sans, sans-serif" font-size="13.50" font-weight="normal" fill="#111" stroke="#111" stroke-width="0.25" transform="translate(66.00,640.80) scale(1.0810,1)">Door1</text><text font-family="Liberation Sans, sans-serif" font-size="13.83" font-weight="normal" fill="#111" stroke="#111" stroke-width="0.25" transform="translate(302.20,641.00) scale(1.0969,1)">Door2</text><text font-family="Liberation Sans, sans-serif" font-size="14.27" font-weight="normal" fill="#111" stroke="#111" stroke-width="0.25" transform="translate(187.60,616.80) scale(1.0677,1)">Lock</text><text font-family="Liberation Sans, sans-serif" font-size="14.27" font-weight="normal" fill="#111" stroke="#111" stroke-width="0.25" transform="translate(424.20,616.80) scale(1.0689,1)">Lock</text></svg></body></html>
